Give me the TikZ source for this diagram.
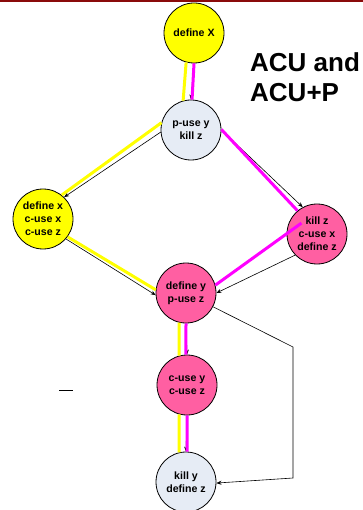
\documentclass[tikz,border=0pt]{standalone}
\usepackage{fontspec}
\setmainfont{Liberation Sans}
\usetikzlibrary{arrows.meta}
\definecolor{nodeyellow}{HTML}{FFFF00}
\definecolor{nodepink}{HTML}{FF5FA2}
\definecolor{nodepale}{HTML}{E6ECF5}
\definecolor{pathmag}{HTML}{FF00FF}
\definecolor{pathyel}{HTML}{FFFF00}
\definecolor{barred}{HTML}{8A0A0A}
\tikzset{
  vertex/.style={circle, draw=black, line width=0.8pt, minimum size=60pt, inner sep=0pt,
    align=center, font=\fontsize{10.6}{13}\selectfont\bfseries},
  yv/.style={vertex, fill=nodeyellow},
  pv/.style={vertex, fill=nodepink},
  lv/.style={vertex, fill=nodepale},
  flow/.style={draw=black, line width=0.6pt, -{Stealth[length=5pt,width=4pt]}},
  ypath/.style={draw=pathyel, line width=3pt},
  mpath/.style={draw=pathmag, line width=3pt},
  heading/.style={anchor=base west, inner sep=0pt, font=\fontsize{26}{30}\selectfont\bfseries}
}
\begin{document}
\begin{tikzpicture}[x=1pt, y=-1pt]
  \useasboundingbox (0,0) rectangle (363,510);
  % title bar
  \fill[barred] (0,0) rectangle (363,2.5);

  % heading
  \node[heading] (h1) at (250,72) {ACU and};
  \node[heading] (h2) at (250,102) {ACU+P};

  % statement nodes
  \node[yv] (dX) at (194,33)  {define X};
  \node[lv] (pu) at (191,130) {p-use y\\kill z};
  \node[yv] (dx) at (43,219)  {define x\\c-use x\\c-use z};
  \node[pv] (kz) at (317,234) {kill z\\c-use x\\define z};
  \node[pv] (dy) at (186,293) {define y\\p-use z};
  \node[pv] (cu) at (187,385) {c-use y\\c-use z};
  \node[lv] (ky) at (186,482) {kill y\\define z};

  % bend points of the back edge
  \coordinate (b1) at (293,347);
  \coordinate (b2) at (293,478);
  % short mark on the left
  \coordinate (m1) at (59,390);
  \coordinate (m2) at (73,390);
  \draw[black, line width=0.8pt] (m1) -- (m2);

  % control-flow edges
  \draw[flow] (dX.south) -- (pu.north);
  \draw[flow] (pu.184) -- (dx.46);
  \draw[flow] (pu.east) -- (kz.118);
  \draw[flow] (dx.319) -- (dy.184);
  \draw[flow] (kz.224) -- (dy.0);
  \draw[flow] (dy.south) -- (cu.north);
  \draw[flow] (cu.south) -- (ky.north);
  \draw[flow] (dy.-27) -- (b1) -- (b2) -- (ky.-2);

  % highlighted paths
  \draw[ypath] (dX.255) -- (pu.105);
  \draw[mpath] (dX.270) -- (pu.88);
  \draw[ypath] (pu.166) -- (dx.52);
  \draw[mpath] (pu.1) -- (kz.130);
  \draw[ypath] (dx.324) -- (dy.174);
  \draw[mpath] ([shift={(215:19)}]kz.center) -- (dy.15);
  \draw[ypath] (dy.257) -- (cu.105);
  \draw[mpath] (dy.270) -- (cu.92);
  \draw[ypath] (cu.255) -- (ky.103);
  \draw[mpath] (cu.270) -- (ky.88);
\end{tikzpicture}
\end{document}
